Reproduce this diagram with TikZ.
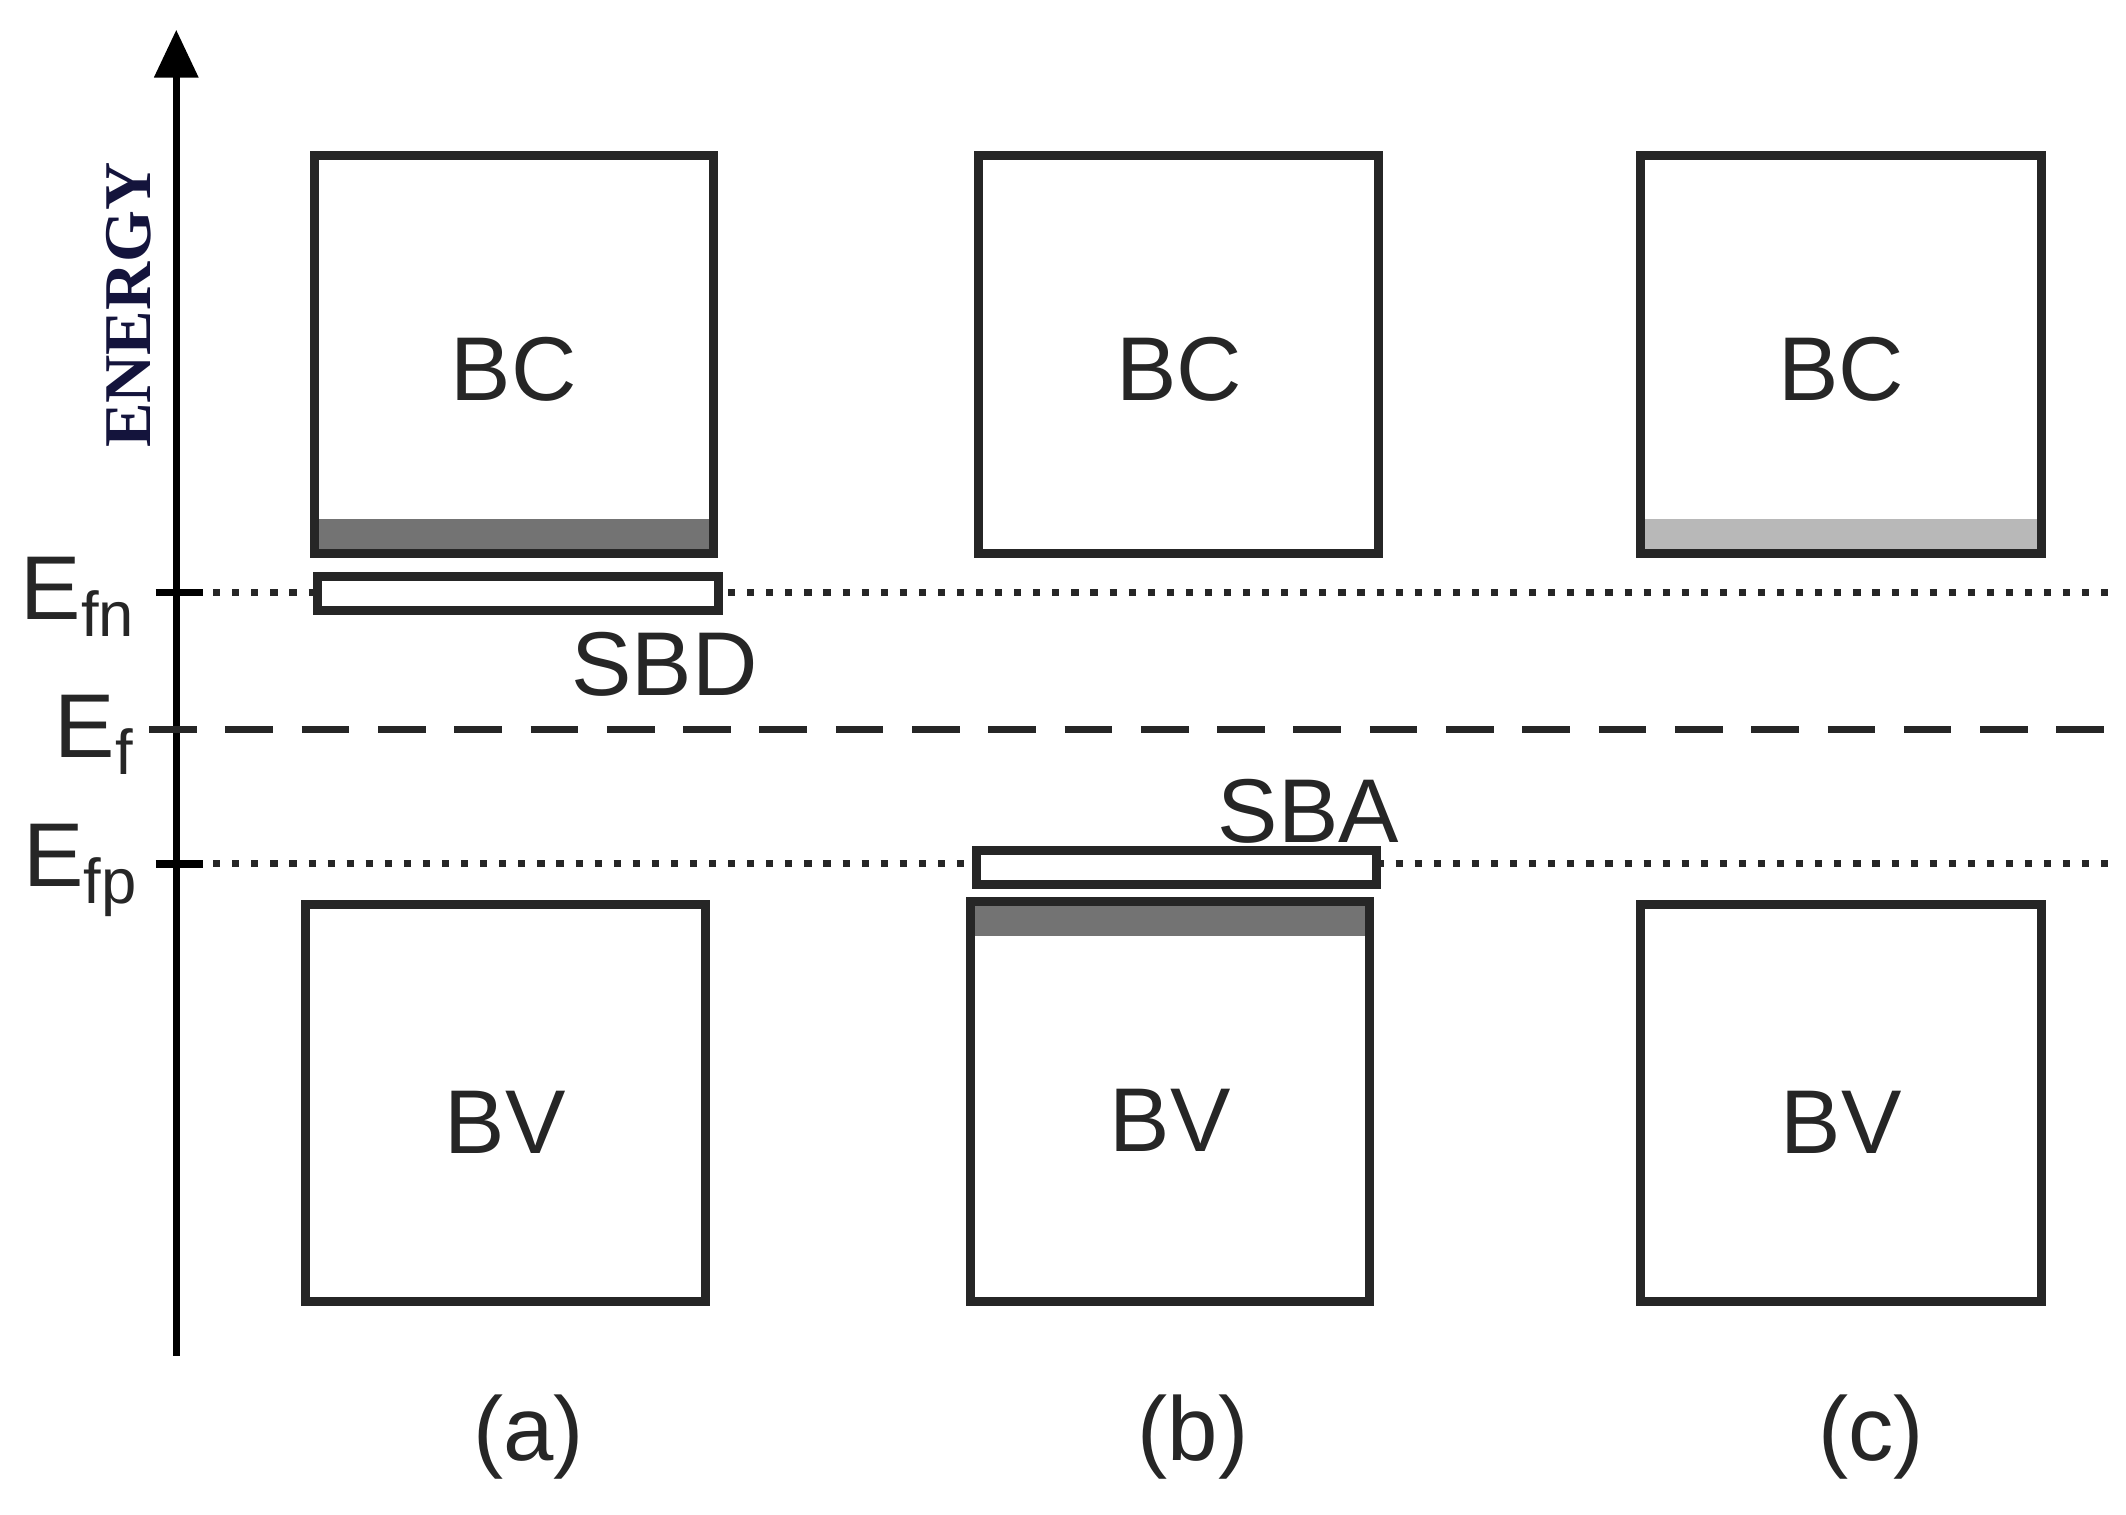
\documentclass[tikz,border=0pt]{standalone}
\usepackage{fontspec}
\setmainfont{Liberation Sans}
\newfontfamily\serifb{Liberation Serif}
\usetikzlibrary{arrows.meta}
\begin{document}
\begin{tikzpicture}[x=0.01cm,y=-0.01cm,
  band/.style={draw=black!85,line width=1.9pt},
  lbl/.style={font=\fontsize{19}{21}\selectfont,text=black!85},
  lvl/.style={line width=1.4pt,black!85}]
\useasboundingbox (0,0) rectangle (1568,1117);
% axis
\coordinate (a0) at (130,1000); \coordinate (a1) at (130,22);
\draw[line width=1.4pt,-{Triangle[length=10pt,width=9pt]}] (a0) -- (a1);
\node[rotate=90,font=\serifb\bfseries\fontsize{14}{16}\selectfont,text={rgb,255:red,20;green,20;blue,60}] (en) at (95,225) {ENERGY};
% levels
\coordinate (fn0) at (115,437); \coordinate (fn1) at (1555,437);
\coordinate (f0) at (110,538); \coordinate (f1) at (1555,538);
\coordinate (fp0) at (115,637); \coordinate (fp1) at (1555,637);
\draw[lvl,dash pattern=on 1.5pt off 2.5pt] (fn0) -- (fn1);
\draw[lvl,dash pattern=on 10pt off 6pt] (f0) -- (f1);
\draw[lvl,dash pattern=on 1.5pt off 2.5pt] (fp0) -- (fp1);
\draw[line width=1.6pt] (115,437) -- (150,437) (115,637) -- (150,637);
\node[lbl] (lfn) at (58,440) {E$_{\mathrm{fn}}$};
\node[lbl] (lf) at (70,542) {E$_{\mathrm{f}}$};
\node[lbl] (lfp) at (60,642) {E$_{\mathrm{fp}}$};
% strips
\fill[black!55] (232,383) rectangle (526,408);
\fill[black!28] (1210,383) rectangle (1506,408);
\fill[black!55] (716,665) rectangle (1010,690);
% BC boxes
\draw[band] (232,115) rectangle (526,408) node[lbl,midway,yshift=-3pt] (bca) {BC};
\draw[band] (722,115) rectangle (1017,408) node[lbl,midway,yshift=-3pt] (bcb) {BC};
\draw[band] (1210,115) rectangle (1506,408) node[lbl,midway,yshift=-3pt] (bcc) {BC};
% BV boxes
\draw[band] (225,667) rectangle (520,960) node[lbl,midway,yshift=-4pt] (bva) {BV};
\draw[band] (716,665) rectangle (1010,960) node[lbl,midway,yshift=-4pt] (bvb) {BV};
\draw[band] (1210,667) rectangle (1506,960) node[lbl,midway,yshift=-4pt] (bvc) {BV};
% impurity bands
\draw[band,fill=white] (234,425) rectangle (530,450);
\draw[band,fill=white] (720,627) rectangle (1015,652);
\node[lbl] (sbd) at (490,490) {SBD};
\node[lbl] (sba) at (965,598) {SBA};
% captions
\node[lbl] (ca) at (390,1060) {(a)};
\node[lbl] (cb) at (880,1060) {(b)};
\node[lbl] (cc) at (1380,1060) {(c)};
\end{tikzpicture}
\end{document}
